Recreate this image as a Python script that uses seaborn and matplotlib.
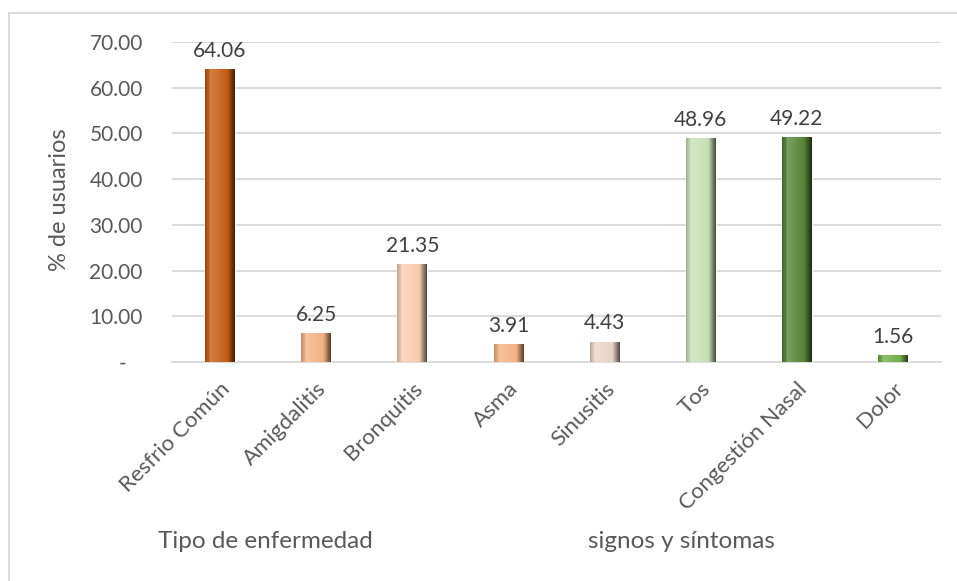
import numpy as np
import matplotlib
matplotlib.use("Agg")
import matplotlib.pyplot as plt
import matplotlib.colors as mcolors
import seaborn as sns
import pandas as pd

# data
categories = ["Resfrio Común", "Amigdalitis", "Bronquitis", "Asma", "Sinusitis",
              "Tos", "Congestión Nasal", "Dolor"]
values = [64.06, 6.25, 21.35, 3.91, 4.43, 48.96, 49.22, 1.56]
bar_colors = ["#C55A11", "#F4B183", "#F8CBAD", "#F4B183", "#EAD3C4",
              "#C5E0B4", "#548235", "#70AD47"]
group_labels = ["Tipo de enfermedad", "signos y síntomas"]
y_ticks = [0, 10, 20, 30, 40, 50, 60, 70]

df = pd.DataFrame({"Categoria": categories, "Valor": values})

sns.set_style("white")
plt.rcParams["font.family"] = ["Lato", "DejaVu Sans"]
text_grey = "#595959"
grid_grey = "#D9D9D9"

fig = plt.figure(figsize=(9.57, 5.81), dpi=100)
ax = fig.add_axes([172 / 957, 219 / 581, (941 - 172) / 957, 320 / 581])

sns.barplot(data=df, x="Categoria", y="Valor", hue="Categoria", palette=bar_colors,
            legend=False, width=0.31, ax=ax, zorder=3)

ax.set_ylim(0, 70)
ax.set_xlim(-0.5, len(categories) - 0.5)

# bevel-like shading: horizontal gradient clipped to each bar
for patch, col in zip(ax.patches, bar_colors):
    x0, y0 = patch.get_x(), patch.get_y()
    w, h = patch.get_width(), patch.get_height()
    base = np.array(mcolors.to_rgb(col))
    light = base + (1 - base) * 0.25
    dark = base * 0.35
    t = np.linspace(0, 1, 64)
    grad = np.empty((1, 64, 3))
    for i, tt in enumerate(t):
        if tt < 0.15:
            c = base * 0.8 + light * 0.2 * (tt / 0.15)
        elif tt < 0.75:
            c = light * (1 - (tt - 0.15) / 0.6) + base * ((tt - 0.15) / 0.6)
        else:
            c = base * (1 - (tt - 0.75) / 0.25) + dark * ((tt - 0.75) / 0.25)
        grad[0, i] = np.clip(c, 0, 1)
    im = ax.imshow(grad, extent=[x0, x0 + w, y0, y0 + h], aspect="auto",
                   zorder=4, interpolation="bilinear")
    im.set_clip_path(patch)
    ax.annotate(f"{patch.get_height():.2f}", (x0 + w / 2, y0 + h),
                xytext=(0, 6), textcoords="offset points", ha="center", va="bottom",
                fontsize=15, color="#404040", zorder=5)

ax.set_xlim(-0.5, len(categories) - 0.5)
ax.set_ylim(0, 70)

ax.set_yticks(y_ticks)
ax.set_yticklabels(["-   " if v == 0 else f"{v:.2f}" for v in y_ticks],
                   fontsize=15, color=text_grey)
ax.tick_params(axis="y", length=0, pad=21)
ax.set_xticks(range(len(categories)))
ax.set_xticklabels(categories, rotation=45, ha="right", rotation_mode="anchor",
                   fontsize=16, color=text_grey)
ax.tick_params(axis="x", length=0, pad=12)

ax.grid(axis="y", color=grid_grey, linewidth=1.3, zorder=0)
ax.set_axisbelow(True)
for s in ["top", "right", "left"]:
    ax.spines[s].set_visible(False)
ax.spines["bottom"].set_color(grid_grey)
ax.spines["bottom"].set_linewidth(1.3)

ax.set_xlabel("")
ax.set_ylabel("")
fig.text(60 / 957, 1 - 200 / 581, "% de usuarios", rotation=90, ha="center",
         va="center", fontsize=17, color=text_grey)

fig.text(265 / 957, 1 - 541 / 581, group_labels[0], ha="center", va="center",
         fontsize=17.5, color=text_grey)
fig.text(681 / 957, 1 - 541 / 581, group_labels[1], ha="center", va="center",
         fontsize=17.5, color=text_grey)

# chart-area border (only top and left visible in the crop)
fig.add_artist(plt.Line2D([9 / 957, 1], [1 - 13 / 581, 1 - 13 / 581],
                          color=grid_grey, linewidth=1.3))
fig.add_artist(plt.Line2D([9 / 957, 9 / 957], [0, 1 - 13 / 581],
                          color=grid_grey, linewidth=1.3))

fig.savefig("out.png", dpi=100)
